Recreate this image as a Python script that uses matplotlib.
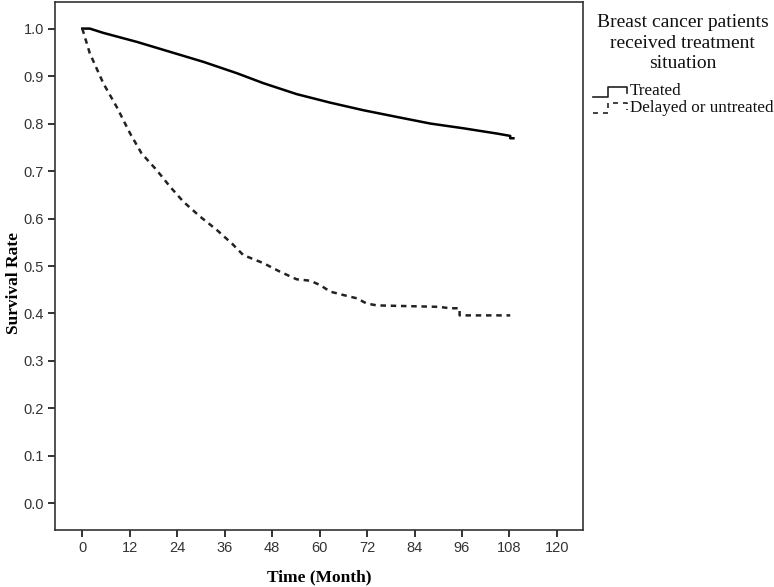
import matplotlib
matplotlib.use("Agg")
import matplotlib.pyplot as plt
from matplotlib.lines import Line2D

# ---- data ----
treated_t = [0, 1.9, 5.3, 13.8, 22.2, 30.6, 39.1, 45.8, 54.2, 62.7, 71.1, 79.5, 88.0, 96.4, 104.8, 108.2, 108.2, 109.0]
treated_s = [1.0, 1.0, 0.991, 0.972, 0.951, 0.93, 0.906, 0.885, 0.862, 0.844, 0.828, 0.814, 0.80, 0.79, 0.779, 0.774, 0.769, 0.769]

delayed_t = [0, 1.9, 5.3, 8.7, 12.1, 15.0, 18.8, 22.2, 25.6, 29.8, 34.0, 38.0, 40.7, 45.8, 50.0, 54.2,
             57.6, 60.1, 62.7, 66.9, 69.4, 71.9, 74.5, 90.1, 93.0, 95.4, 95.4, 108.2]
delayed_s = [1.0, 0.948, 0.885, 0.835, 0.779, 0.737, 0.702, 0.667, 0.635, 0.604, 0.576, 0.546, 0.523, 0.506, 0.488, 0.472,
             0.469, 0.46, 0.446, 0.437, 0.432, 0.421, 0.417, 0.414, 0.411, 0.411, 0.396, 0.396]

x_ticks = [0, 12, 24, 36, 48, 60, 72, 84, 96, 108, 120]
y_ticks = [0.0, 0.1, 0.2, 0.3, 0.4, 0.5, 0.6, 0.7, 0.8, 0.9, 1.0]
y_tick_labels = ["0.0", "0.1", "0.2", "0.3", "0.4", "0.5", "0.6", "0.7", "0.8", "0.9", "1.0"]
legend_title = "Breast cancer patients\nreceived treatment\nsituation"
series_names = ["Treated", "Delayed or untreated"]

W, H = 774, 587
fig = plt.figure(figsize=(W / 100, H / 100), dpi=100)
L, R, B, T = 55, 583, 530, 2
ax = fig.add_axes([L / W, (H - B) / H, (R - L) / W, (B - T) / H])

ax.plot(treated_t, treated_s, color="black", lw=1.8, solid_joinstyle="round")
ax.plot(delayed_t, delayed_s, color="#222222", lw=1.8, linestyle=(0, (2.2, 1.9)))

ax.set_xlim(-6.9, 126.6)
ax.set_ylim(-0.056, 1.056)
ax.set_xticks(x_ticks)
ax.set_xticklabels([str(v) for v in x_ticks])
ax.set_yticks(y_ticks)
ax.set_yticklabels(y_tick_labels)

for sp in ax.spines.values():
    sp.set_color("#333333")
    sp.set_linewidth(1.2)
ax.tick_params(direction="out", length=5, width=1.4, color="#333333",
               labelsize=10.5, labelcolor="#333333", pad=3)
for lab in ax.get_xticklabels() + ax.get_yticklabels():
    lab.set_fontfamily("Liberation Sans")

ax.set_xlabel("Time (Month)", fontfamily="Liberation Serif", fontweight="bold", fontsize=12.5)
ax.set_ylabel("Survival Rate", fontfamily="Liberation Serif", fontweight="bold", fontsize=12.5)
ax.xaxis.set_label_coords((319.5 - L) / (R - L), -(577 - B) / (B - T))
ax.yaxis.set_label_coords((14 - L) / (R - L), (B - 283) / (B - T))
ax.xaxis.label.set_va("center")
ax.yaxis.label.set_va("center")

# ---- legend (manual, SPSS style) ----
def fx(px):
    return px / W

def fy(py):
    return 1 - py / H

fig.text(fx(682.7), fy(43), legend_title, ha="center", va="center",
         fontfamily="Liberation Serif", fontsize=14, linespacing=1.27, color="#111111")

def step_icon(y_low, y_high, y_end, style, color):
    xs = [593.3, 608.3, 608.3, 626.7, 626.7]
    ys = [y_low, y_low, y_high, y_high, y_end]
    fig.add_artist(Line2D([fx(v) for v in xs], [fy(v) for v in ys], transform=fig.transFigure,
                          color=color, lw=1.2, linestyle=style))

step_icon(96.7, 86.7, 93.3, "-", "#222222")
step_icon(113.3, 103.3, 110.0, (0, (3, 3)), "#222222")
fig.text(fx(630), fy(90.7), series_names[0], ha="left", va="center",
         fontfamily="Liberation Serif", fontsize=12.3, color="#111111")
fig.text(fx(630), fy(107.5), series_names[1], ha="left", va="center",
         fontfamily="Liberation Serif", fontsize=12.3, color="#111111")

fig.savefig("out.png", dpi=100, facecolor="white")
